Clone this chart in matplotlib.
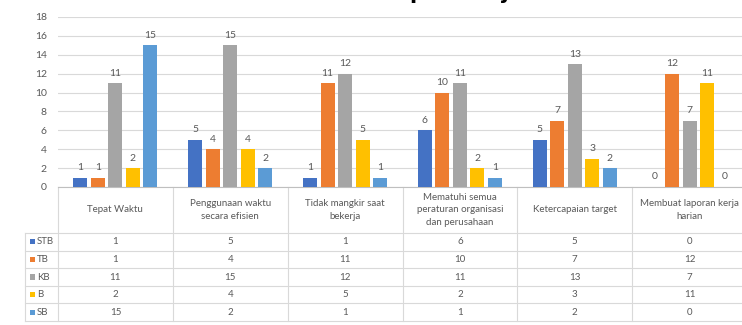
import matplotlib
matplotlib.use("Agg")
import matplotlib.pyplot as plt
import matplotlib.transforms as mtransforms
from matplotlib.patches import Rectangle
import numpy as np

plt.rcParams['font.family'] = ['Lato', 'DejaVu Sans']

categories = ["Tepat Waktu", "Penggunaan waktu\nsecara efisien", "Tidak mangkir saat\nbekerja",
              "Mematuhi semua\nperaturan organisasi\ndan perusahaan", "Ketercapaian target",
              "Membuat laporan kerja\nharian"]
series_names = ["STB", "TB", "KB", "B", "SB"]
STB = [1, 5, 1, 6, 5, 0]
TB = [1, 4, 11, 10, 7, 12]
KB = [11, 15, 12, 11, 13, 7]
B = [2, 4, 5, 2, 3, 11]
SB = [15, 2, 1, 1, 2, 0]
series_values = [STB, TB, KB, B, SB]
colors = ["#4472C4", "#ED7D31", "#A5A5A5", "#FFC000", "#5B9BD5"]
yticks = [0, 2, 4, 6, 8, 10, 12, 14, 16, 18]
title = "Disiplin Kerja"

W, H = 742, 325
fig = plt.figure(figsize=(W / 100, H / 100), dpi=100)
ax_left, ax_right = 58, 747
ax_top, ax_bottom = 17, 187
ax = fig.add_axes([ax_left / W, 1 - ax_bottom / H, (ax_right - ax_left) / W, (ax_bottom - ax_top) / H])

txt_color = "#595959"
grid_color = "#D9D9D9"
n = len(categories)
x = np.arange(n)
step = 17.5 / 115
bw = 14 / 115
for j, (name, vals, c) in enumerate(zip(series_names, series_values, colors)):
    pos = x + (j - 2) * step
    ax.bar(pos, vals, width=bw, color=c, zorder=3)
    for p, v in zip(pos, vals):
        ax.annotate(str(v), (p, v), xytext=(0, 4), textcoords="offset points",
                    ha="center", va="bottom", fontsize=7.5, color=txt_color)

ax.set_xlim(-0.5, n - 0.5)
ax.set_ylim(0, 18)
ax.set_yticks(yticks)
ax.set_yticklabels([str(t) for t in yticks], fontsize=7.5, color=txt_color)
ax.tick_params(axis="y", length=0, pad=8)
ax.set_xticks([])
ax.yaxis.grid(True, color=grid_color, lw=0.8, zorder=0)
for s in ["top", "right", "left"]:
    ax.spines[s].set_visible(False)
ax.spines["bottom"].set_color("#BFBFBF")
ax.spines["bottom"].set_linewidth(0.8)

# data table under the chart
tr = mtransforms.blended_transform_factory(ax.transData, fig.transFigure)
def fy(py):
    return 1 - py / H

hdr_top, hdr_bot = 187, 233
row_h = 17.6
tab_bot = hdr_bot + row_h * len(series_names)
lab_left = -0.5 - 33 / 115
line_kw = dict(color=grid_color, lw=0.8, transform=tr, clip_on=False)
for k in range(n + 1):
    ax.plot([k - 0.5, k - 0.5], [fy(hdr_top), fy(tab_bot)], **line_kw)
ax.plot([lab_left, lab_left], [fy(hdr_bot), fy(tab_bot)], **line_kw)
for r in range(len(series_names) + 1):
    yy = fy(hdr_bot + r * row_h)
    ax.plot([lab_left, n - 0.5], [yy, yy], **line_kw)

for i, cat in enumerate(categories):
    ax.text(i, fy(210), cat, transform=tr, ha="center", va="center", fontsize=7,
            color=txt_color, linespacing=1.45)

for r, (name, vals, c) in enumerate(zip(series_names, series_values, colors)):
    yc_px = hdr_bot + (r + 0.5) * row_h
    yc = fy(yc_px)
    ax.add_patch(Rectangle((lab_left + 4.5 / 115, fy(yc_px + 2.6)), 5.2 / 115, 5.2 / H,
                           transform=tr, color=c, clip_on=False, lw=0))
    ax.text(lab_left + 12 / 115, yc, name, transform=tr, ha="left", va="center",
            fontsize=7, color=txt_color)
    for i, v in enumerate(vals):
        ax.text(i, yc, str(v), transform=tr, ha="center", va="center", fontsize=7,
                color=txt_color)

# title, cut off at the top of the image in the reference
fig.text(366 / W, 1 + 1.2 / H, title, ha="left", va="baseline", fontsize=15,
         fontweight="bold", color="black", family=["DejaVu Sans"])

fig.savefig("out.png", dpi=100)
